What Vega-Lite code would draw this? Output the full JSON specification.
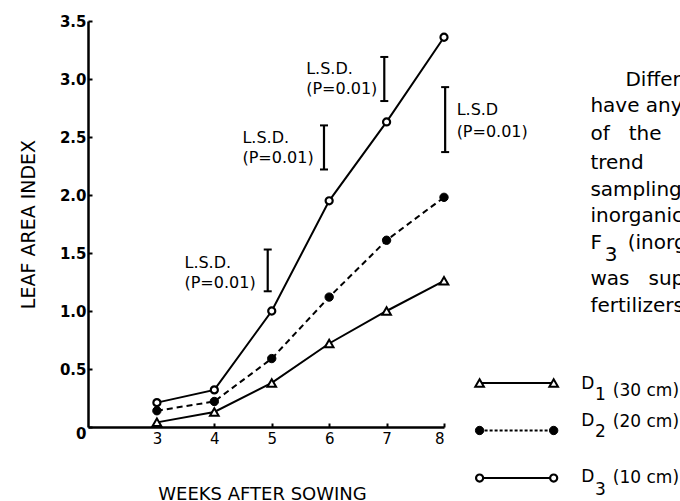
{
  "$schema": "https://vega.github.io/schema/vega-lite/v6.json",
  "width": 356,
  "height": 406,
  "autosize": {"type": "none"},
  "padding": {"left": 88, "top": 21, "right": 236, "bottom": 74},
  "background": "white",
  "config": {
    "font": "DejaVu Sans",
    "view": {"stroke": null},
    "axis": {"grid": false, "domainColor": "black", "domainWidth": 2.5, "tickColor": "black", "tickWidth": 2, "labelColor": "black", "titleColor": "black", "labelFont": "DejaVu Sans", "titleFont": "DejaVu Sans", "titleFontWeight": "normal"}
  },
  "datasets": {
    "growth": [
      {"week": 3, "lai": 0.04, "spacing": "D1"},
      {"week": 4, "lai": 0.13, "spacing": "D1"},
      {"week": 5, "lai": 0.38, "spacing": "D1"},
      {"week": 6, "lai": 0.72, "spacing": "D1"},
      {"week": 7, "lai": 1.0, "spacing": "D1"},
      {"week": 8, "lai": 1.26, "spacing": "D1"},
      {"week": 3, "lai": 0.14, "spacing": "D2"},
      {"week": 4, "lai": 0.22, "spacing": "D2"},
      {"week": 5, "lai": 0.59, "spacing": "D2"},
      {"week": 6, "lai": 1.12, "spacing": "D2"},
      {"week": 7, "lai": 1.61, "spacing": "D2"},
      {"week": 8, "lai": 1.98, "spacing": "D2"},
      {"week": 3, "lai": 0.21, "spacing": "D3"},
      {"week": 4, "lai": 0.32, "spacing": "D3"},
      {"week": 5, "lai": 1.0, "spacing": "D3"},
      {"week": 6, "lai": 1.95, "spacing": "D3"},
      {"week": 7, "lai": 2.63, "spacing": "D3"},
      {"week": 8, "lai": 3.36, "spacing": "D3"}
    ],
    "lsd": [
      {"week": 4.93, "lo": 1.17, "hi": 1.53},
      {"week": 5.91, "lo": 2.22, "hi": 2.6},
      {"week": 6.96, "lo": 2.81, "hi": 3.19},
      {"week": 8.02, "lo": 2.37, "hi": 2.93}
    ],
    "lsdText": [
      {"week": 3.48, "lai": 1.41, "text": "L.S.D."},
      {"week": 3.48, "lai": 1.24, "text": "(P=0.01)"},
      {"week": 4.49, "lai": 2.49, "text": "L.S.D."},
      {"week": 4.49, "lai": 2.32, "text": "(P=0.01)"},
      {"week": 5.6, "lai": 3.09, "text": "L.S.D."},
      {"week": 5.6, "lai": 2.91, "text": "(P=0.01)"},
      {"week": 8.22, "lai": 2.73, "text": "L.S.D"},
      {"week": 8.22, "lai": 2.54, "text": "(P=0.01)"}
    ],
    "legendKey": [
      {"week": 8.62, "lai": 0.38, "spacing": "D1"},
      {"week": 9.91, "lai": 0.38, "spacing": "D1"},
      {"week": 8.62, "lai": -0.03, "spacing": "D2"},
      {"week": 9.91, "lai": -0.03, "spacing": "D2"},
      {"week": 8.62, "lai": -0.44, "spacing": "D3"},
      {"week": 9.91, "lai": -0.44, "spacing": "D3"}
    ],
    "legendText": [
      {"week": 10.39, "lai": 0.37, "text": "D"},
      {"week": 10.63, "lai": 0.28, "text": "1"},
      {"week": 10.94, "lai": 0.31, "text": "(30 cm)"},
      {"week": 10.39, "lai": 0.05, "text": "D"},
      {"week": 10.63, "lai": -0.04, "text": "2"},
      {"week": 10.94, "lai": 0.04, "text": "(20 cm)"},
      {"week": 10.39, "lai": -0.43, "text": "D"},
      {"week": 10.63, "lai": -0.54, "text": "3"},
      {"week": 10.94, "lai": -0.44, "text": "(10 cm)"}
    ],
    "body": [
      {"week": 11.16, "lai": 2.99, "text": "Different"},
      {"week": 10.55, "lai": 2.77, "text": "have any"},
      {"week": 10.55, "lai": 2.53, "text": "of\u00a0\u00a0\u00a0the"},
      {"week": 10.55, "lai": 2.28, "text": "trend"},
      {"week": 10.55, "lai": 2.04, "text": "sampling"},
      {"week": 10.55, "lai": 1.82, "text": "inorganic"},
      {"week": 10.55, "lai": 1.59, "text": "F"},
      {"week": 10.8, "lai": 1.48, "text": "3"},
      {"week": 11.2, "lai": 1.59, "text": "(inorganic"},
      {"week": 10.55, "lai": 1.28, "text": "was\u00a0\u00a0\u00a0superior"},
      {"week": 10.55, "lai": 1.04, "text": "fertilizers"}
    ]
  },
  "layer": [
    {
      "data": {"name": "growth"},
      "transform": [{"filter": "datum.spacing !== 'D2'"}],
      "mark": {"type": "line", "color": "black", "strokeWidth": 2},
      "encoding": {
        "x": {"field": "week", "type": "quantitative", "scale": {"domain": [1.8, 8], "nice": false, "zero": false},
          "axis": {"values": [3, 4, 5, 6, 7, 8], "format": "d", "tickSize": -4, "labelPadding": 8, "labelFontSize": 15, "labelFontWeight": "normal", "title": "WEEKS AFTER SOWING", "titleFontSize": 18, "titleY": 72, "titleBaseline": "alphabetic", "titleX": 174}},
        "y": {"field": "lai", "type": "quantitative", "scale": {"domain": [0, 3.5], "nice": false, "zero": false},
          "axis": {"values": [0, 0.5, 1, 1.5, 2, 2.5, 3, 3.5], "labelExpr": "datum.value == 0 ? '0' : format(datum.value, '.1f')", "labelOffset": {"condition": {"test": "datum.value == 0", "value": 6}, "value": 0}, "labelFontSize": 15, "labelFontWeight": "bold", "tickSize": -4, "labelPadding": 6, "title": "LEAF AREA INDEX", "titleFontSize": 19, "titleX": -60, "titleY": 203, "titleBaseline": "middle", "titleAlign": "center", "titleAngle": -90}},
        "detail": {"field": "spacing"}
      }
    },
    {
      "data": {"name": "growth"},
      "transform": [{"filter": "datum.spacing === 'D2'"}],
      "mark": {"type": "line", "color": "black", "strokeWidth": 2, "strokeDash": [6, 4]},
      "encoding": {
        "x": {"field": "week", "type": "quantitative"},
        "y": {"field": "lai", "type": "quantitative"}
      }
    },
    {
      "data": {"name": "legendKey"},
      "transform": [{"filter": "datum.spacing !== 'D2'"}],
      "mark": {"type": "line", "color": "black", "strokeWidth": 2},
      "encoding": {
        "x": {"field": "week", "type": "quantitative"},
        "y": {"field": "lai", "type": "quantitative"},
        "detail": {"field": "spacing"}
      }
    },
    {
      "data": {"name": "legendKey"},
      "transform": [{"filter": "datum.spacing === 'D2'"}],
      "mark": {"type": "line", "color": "black", "strokeWidth": 2, "strokeDash": [3, 2]},
      "encoding": {
        "x": {"field": "week", "type": "quantitative"},
        "y": {"field": "lai", "type": "quantitative"}
      }
    },
    {
      "data": {"name": "growth"},
      "transform": [{"filter": "datum.spacing === 'D1'"}],
      "mark": {"type": "point", "shape": "triangle-up", "size": 75, "filled": true, "fill": "white", "stroke": "black", "strokeWidth": 2, "opacity": 1},
      "encoding": {"x": {"field": "week", "type": "quantitative"}, "y": {"field": "lai", "type": "quantitative"}}
    },
    {
      "data": {"name": "growth"},
      "transform": [{"filter": "datum.spacing === 'D2'"}],
      "mark": {"type": "point", "shape": "circle", "size": 70, "filled": true, "fill": "black", "stroke": "black", "strokeWidth": 1, "opacity": 1},
      "encoding": {"x": {"field": "week", "type": "quantitative"}, "y": {"field": "lai", "type": "quantitative"}}
    },
    {
      "data": {"name": "growth"},
      "transform": [{"filter": "datum.spacing === 'D3'"}],
      "mark": {"type": "point", "shape": "circle", "size": 50, "filled": true, "fill": "white", "stroke": "black", "strokeWidth": 2.2, "opacity": 1},
      "encoding": {"x": {"field": "week", "type": "quantitative"}, "y": {"field": "lai", "type": "quantitative"}}
    },
    {
      "data": {"name": "legendKey"},
      "transform": [{"filter": "datum.spacing === 'D1'"}],
      "mark": {"type": "point", "shape": "triangle-up", "size": 75, "filled": true, "fill": "white", "stroke": "black", "strokeWidth": 2, "opacity": 1},
      "encoding": {"x": {"field": "week", "type": "quantitative"}, "y": {"field": "lai", "type": "quantitative"}}
    },
    {
      "data": {"name": "legendKey"},
      "transform": [{"filter": "datum.spacing === 'D2'"}],
      "mark": {"type": "point", "shape": "circle", "size": 70, "filled": true, "fill": "black", "stroke": "black", "strokeWidth": 1, "opacity": 1},
      "encoding": {"x": {"field": "week", "type": "quantitative"}, "y": {"field": "lai", "type": "quantitative"}}
    },
    {
      "data": {"name": "legendKey"},
      "transform": [{"filter": "datum.spacing === 'D3'"}],
      "mark": {"type": "point", "shape": "circle", "size": 50, "filled": true, "fill": "white", "stroke": "black", "strokeWidth": 2.2, "opacity": 1},
      "encoding": {"x": {"field": "week", "type": "quantitative"}, "y": {"field": "lai", "type": "quantitative"}}
    },
    {
      "data": {"name": "lsd"},
      "mark": {"type": "rule", "color": "black", "strokeWidth": 2.2},
      "encoding": {"x": {"field": "week", "type": "quantitative"}, "y": {"field": "lo", "type": "quantitative"}, "y2": {"field": "hi"}}
    },
    {
      "data": {"name": "lsd"},
      "mark": {"type": "tick", "orient": "horizontal", "color": "black", "size": 8, "thickness": 2, "opacity": 1},
      "encoding": {"x": {"field": "week", "type": "quantitative"}, "y": {"field": "lo", "type": "quantitative"}}
    },
    {
      "data": {"name": "lsd"},
      "mark": {"type": "tick", "orient": "horizontal", "color": "black", "size": 8, "thickness": 2, "opacity": 1},
      "encoding": {"x": {"field": "week", "type": "quantitative"}, "y": {"field": "hi", "type": "quantitative"}}
    },
    {
      "data": {"name": "lsdText"},
      "mark": {"type": "text", "align": "left", "baseline": "middle", "fontSize": 16, "color": "black", "font": "DejaVu Sans"},
      "encoding": {"x": {"field": "week", "type": "quantitative"}, "y": {"field": "lai", "type": "quantitative"}, "text": {"field": "text"}}
    },
    {
      "data": {"name": "legendText"},
      "mark": {"type": "text", "align": "left", "baseline": "middle", "fontSize": 17, "color": "black", "font": "DejaVu Sans"},
      "encoding": {"x": {"field": "week", "type": "quantitative"}, "y": {"field": "lai", "type": "quantitative"}, "text": {"field": "text"}}
    },
    {
      "data": {"name": "body"},
      "mark": {"type": "text", "align": "left", "baseline": "middle", "fontSize": 20, "color": "black", "font": "DejaVu Sans"},
      "encoding": {"x": {"field": "week", "type": "quantitative"}, "y": {"field": "lai", "type": "quantitative"}, "text": {"field": "text"}}
    }
  ]
}
